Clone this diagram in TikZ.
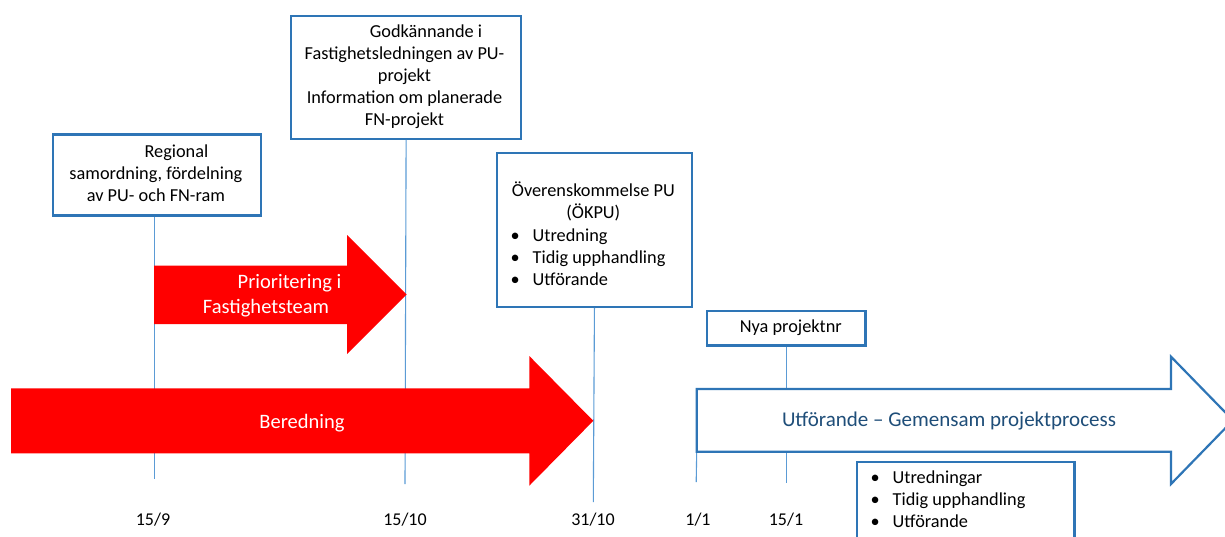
\documentclass[tikz,border=0pt]{standalone}
\usepackage{fontspec}
\setmainfont{Carlito}
\usetikzlibrary{calc}
\definecolor{boxblue}{RGB}{46,117,182}
\definecolor{tickblue}{RGB}{91,155,213}
\definecolor{arrowred}{RGB}{255,0,0}
\definecolor{textblue}{RGB}{31,78,121}
\newcommand{\lstbullet}{\makebox[22pt][l]{•}}
\begin{document}
\begin{tikzpicture}[x=1pt,y=-1pt,
  box/.style={draw=boxblue, line width=2.2pt, fill=white, inner sep=0pt, anchor=north west},
  tick/.style={draw=tickblue, line width=1.1pt},
  body/.style={font=\fontsize{18.3}{22}\selectfont, inner sep=0pt, anchor=base, text=black},
  big/.style={font=\fontsize{20.5}{25.5}\selectfont, inner sep=0pt, anchor=base},
  redarrow/.style={fill=arrowred},
  bluearrow/.style={draw=boxblue, line width=2.2pt, fill=white, line join=miter},
  date/.style={font=\fontsize{18}{22}\selectfont, inner sep=0pt, anchor=base}
]
\useasboundingbox (0,0) rectangle (1225,536);
\clip (0,0) rectangle (1225,536);

% free ends of the date ticks
\coordinate (end159)  at (154.3,479.3);
\coordinate (end1510) at (405,484);
\coordinate (end3110) at (593.3,502);
\coordinate (utfcorner) at (696.7,451.7);
\coordinate (end11)   at (696.2,482);
\coordinate (end151)  at (786.5,483.3);

% milestone boxes
\node[box, minimum width=208.3pt, minimum height=81pt]    (regbox)  at (51.7,133.3) {};
\node[box, minimum width=230pt,   minimum height=122.7pt] (godkbox) at (290,15) {};
\node[box, minimum width=195.3pt, minimum height=154pt]   (okpubox) at (495.7,151.7) {};
\node[box, minimum width=158.3pt, minimum height=34.3pt]  (nyabox)  at (706,310) {};
\node[box, minimum width=217.6pt, minimum height=100pt]   (listbox) at (855.7,460.5) {};

% date ticks
\draw[tick] (regbox.south -| end159) -- (end159);
\draw[tick] (godkbox.south) -- (end1510);
\draw[tick] (okpubox.south) -- (end3110);
\draw[tick] (nyabox.south -| end151) -- (end151);
\draw[tick] (utfcorner) -- (end11);

% process arrows
\fill[redarrow] (154,265.7) -- (347,265.7) -- (347,235) -- (406.7,294.5)
  -- (347,354) -- (347,324) -- (154,324) -- cycle;
\fill[redarrow] (11,388.3) -- (529.3,388.3) -- (529.3,356) -- (593.3,420.8)
  -- (529.3,485.7) -- (529.3,453.3) -- (11,453.3) -- cycle;
\path[bluearrow] (696.7,389) -- (1171,389) -- (1171,356.7) -- (1233,420.3)
  -- (1171,484) -- (1171,451.7) -- (utfcorner) -- cycle;

% arrow labels
\node[big, text=white] (prio) at (266,288)
  {\begin{tabular}[t]{@{}c@{}}\hspace*{47pt}Prioritering i\\Fastighetsteam\end{tabular}};
\node[big, text=white] (beredning) at (302,428.3) {Beredning};
\node[big, text=textblue, font=\fontsize{21}{25.5}\selectfont] (utf) at (949,426.7) {Utförande – Gemensam projektprocess};

% box texts
\node[body] (regtext) at (155.9,157.3)
  {\begin{tabular}[t]{@{}c@{}}\hspace*{41pt}Regional\\samordning, fördelning\\av PU- och FN-ram\end{tabular}};
\node[body] (godktext) at (404.5,37.3)
  {\begin{tabular}[t]{@{}c@{}}\hspace*{43pt}Godkännande i\\Fastighetsledningen av PU-\\projekt\\Information om planerade\\FN-projekt\end{tabular}};
\node[body] (okpuhead) at (593.3,196.7)
  {\begin{tabular}[t]{@{}c@{}}Överenskommelse PU\\(ÖKPU)\end{tabular}};
\node[body, anchor=base west] (okpulist) at (510.5,241.7)
  {\begin{tabular}[t]{@{}l@{}}\lstbullet Utredning\\\lstbullet Tidig upphandling\\\lstbullet Utförande\end{tabular}};
\node[body] (nyatext) at (790.8,332.3) {Nya projektnr};
\node[body, anchor=base west] (listtext) at (870.5,483.3)
  {\begin{tabular}[t]{@{}l@{}}\lstbullet Utredningar\\\lstbullet Tidig upphandling\\\lstbullet Utförande\end{tabular}};

% dates
\node[date] (d159)  at (153,525)   {15/9};
\node[date] (d1510) at (405,525)   {15/10};
\node[date] (d3110) at (593,525)   {31/10};
\node[date] (d11)   at (698,525)   {1/1};
\node[date] (d151)  at (786,525)   {15/1};
\end{tikzpicture}
\end{document}
